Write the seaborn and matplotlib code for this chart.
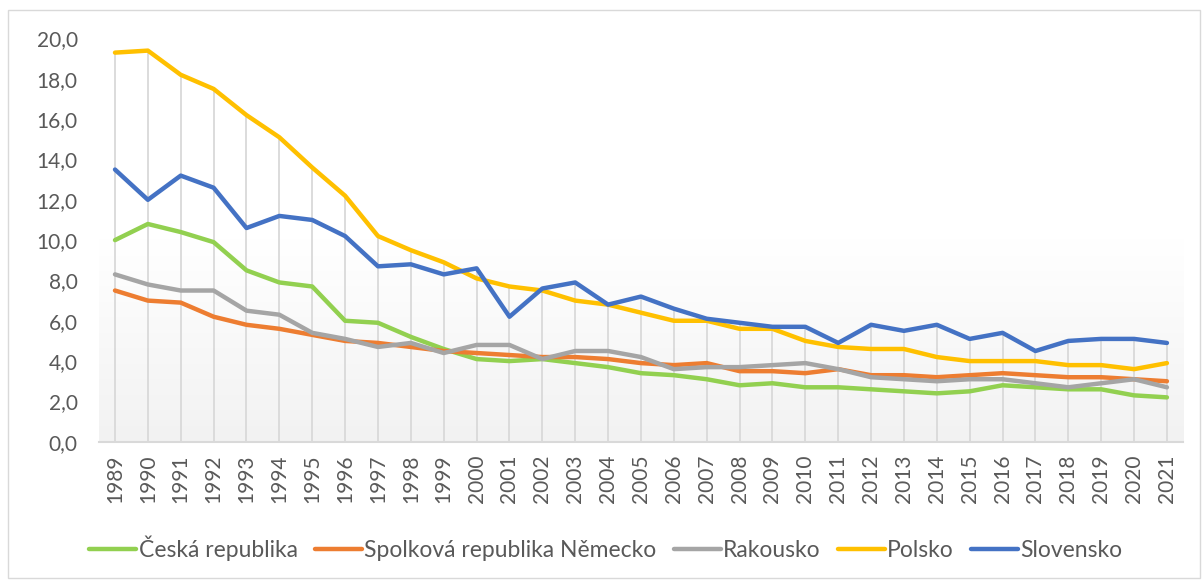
import matplotlib.pyplot as plt
import matplotlib.colors as mcolors
from matplotlib.patches import Rectangle
import numpy as np
import pandas as pd
import seaborn as sns

years = list(range(1989, 2022))

cesko = [10.0, 10.8, 10.4, 9.9, 8.5, 7.9, 7.7, 6.0, 5.9, 5.2, 4.6, 4.1, 4.0, 4.1, 3.9, 3.7,
         3.4, 3.3, 3.1, 2.8, 2.9, 2.7, 2.7, 2.6, 2.5, 2.4, 2.5, 2.8, 2.7, 2.6, 2.6, 2.3, 2.2]
nemecko = [7.5, 7.0, 6.9, 6.2, 5.8, 5.6, 5.3, 5.0, 4.9, 4.7, 4.5, 4.4, 4.3, 4.2, 4.2, 4.1,
           3.9, 3.8, 3.9, 3.5, 3.5, 3.4, 3.6, 3.3, 3.3, 3.2, 3.3, 3.4, 3.3, 3.2, 3.2, 3.1, 3.0]
rakousko = [8.3, 7.8, 7.5, 7.5, 6.5, 6.3, 5.4, 5.1, 4.7, 4.9, 4.4, 4.8, 4.8, 4.1, 4.5, 4.5,
            4.2, 3.6, 3.7, 3.7, 3.8, 3.9, 3.6, 3.2, 3.1, 3.0, 3.1, 3.1, 2.9, 2.7, 2.9, 3.1, 2.7]
polsko = [19.3, 19.4, 18.2, 17.5, 16.2, 15.1, 13.6, 12.2, 10.2, 9.5, 8.9, 8.1, 7.7, 7.5, 7.0, 6.8,
          6.4, 6.0, 6.0, 5.6, 5.6, 5.0, 4.7, 4.6, 4.6, 4.2, 4.0, 4.0, 4.0, 3.8, 3.8, 3.6, 3.9]
slovensko = [13.5, 12.0, 13.2, 12.6, 10.6, 11.2, 11.0, 10.2, 8.7, 8.8, 8.3, 8.6, 6.2, 7.6, 7.9, 6.8,
             7.2, 6.6, 6.1, 5.9, 5.7, 5.7, 4.9, 5.8, 5.5, 5.8, 5.1, 5.4, 4.5, 5.0, 5.1, 5.1, 4.9]

names = ["Česká republika", "Spolková republika Německo", "Rakousko", "Polsko", "Slovensko"]
colors = ["#92D050", "#ED7D31", "#A5A5A5", "#FFC000", "#4472C4"]

wide = pd.DataFrame({"rok": years, names[0]: cesko, names[1]: nemecko,
                     names[2]: rakousko, names[3]: polsko, names[4]: slovensko})
data = wide.melt(id_vars="rok", var_name="zeme", value_name="hodnota")

sns.set_style("white")
plt.rcParams['font.family'] = ['Lato', 'DejaVu Sans']

fig = plt.figure(figsize=(12.02, 5.8), dpi=100)
ax = fig.add_axes([0.082, 0.2384, 0.9025, 0.6952])

# gradient plot area like in Excel
grad = np.linspace(0, 1, 256).reshape(-1, 1)
cmap = mcolors.LinearSegmentedColormap.from_list("bg", ["#ffffff", "#ffffff", "#f2f2f2"])
ax.imshow(grad, cmap=cmap, extent=[0, 1, 0, 1], transform=ax.transAxes,
          aspect="auto", zorder=0, origin="upper")

# drop lines from highest series down to the axis
tops = wide[names].max(axis=1)
ax.vlines(wide["rok"], 0, tops, color="#d9d9d9", lw=1.3, zorder=1)

sns.lineplot(data=data, x="rok", y="hodnota", hue="zeme", hue_order=names,
             palette=colors, linewidth=3.2, ax=ax, zorder=3)

ax.set_xlim(1988.5, 2021.5)
ax.set_ylim(0, 20)
ax.set_xticks(years)
ax.set_xticklabels([str(y) for y in years], rotation=90)
ax.set_yticks(np.arange(0, 21, 2))
ax.set_yticklabels(["{:.1f}".format(v).replace(".", ",") for v in np.arange(0, 21, 2)])
ax.tick_params(axis="both", length=0, labelsize=15, labelcolor="#595959")
ax.tick_params(axis="x", pad=9)
ax.tick_params(axis="y", pad=15)
ax.set_xlabel("")
ax.set_ylabel("")
for side in ["top", "right", "left"]:
    ax.spines[side].set_visible(False)
ax.spines["bottom"].set_color("#d9d9d9")
ax.spines["bottom"].set_linewidth(1.5)

handles, labels = ax.get_legend_handles_labels()
ax.get_legend().remove()
fig.legend(handles, labels, loc="center", bbox_to_anchor=(0.504, 1 - 548 / 580),
           ncol=5, frameon=False, fontsize=16.5, handlelength=2.05, handletextpad=0.1,
           columnspacing=0.75, labelcolor="#595959")

fig.patches.append(Rectangle((8 / 1202, 2 / 580), 1192 / 1202, 568 / 580,
                             transform=fig.transFigure, fill=False,
                             edgecolor="#d9d9d9", lw=1))

fig.savefig("out.png", dpi=100)
